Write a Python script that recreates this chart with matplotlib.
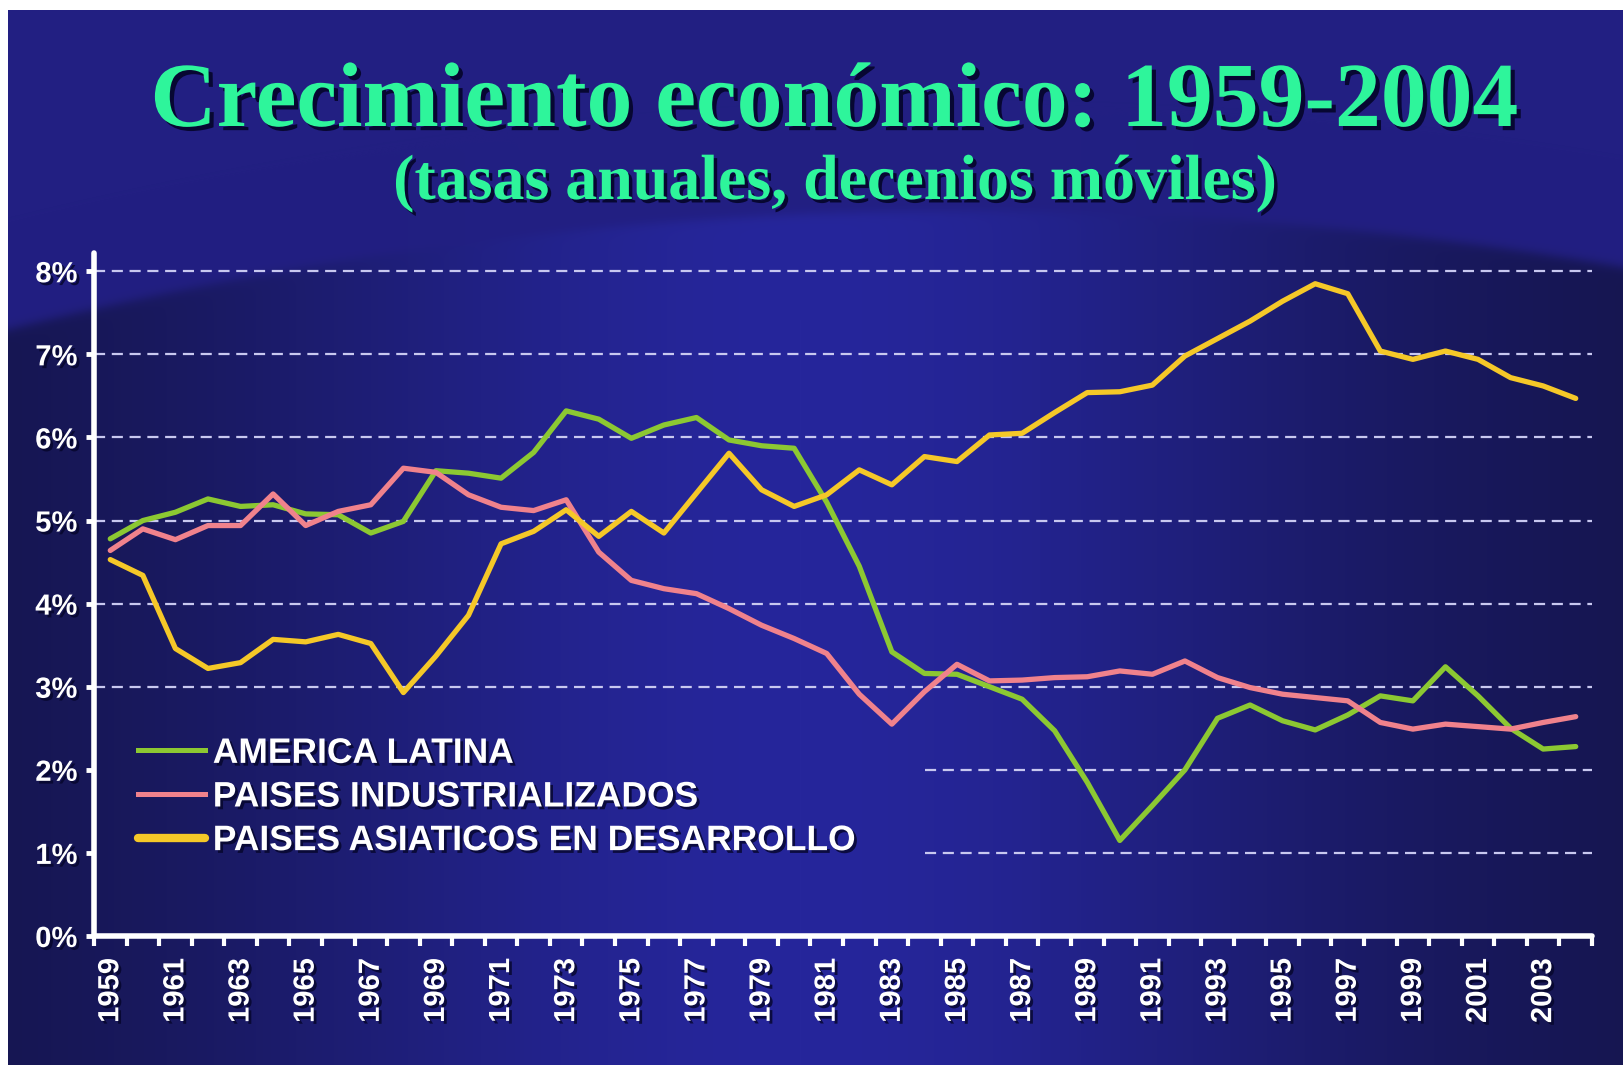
import numpy as np
import matplotlib
matplotlib.use("Agg")
import matplotlib.pyplot as plt
import matplotlib.patheffects as pe
from matplotlib.lines import Line2D

# rolling ten-year annual growth rates (%)
years = list(range(1959, 2005))
america_latina = [4.78, 5.00, 5.10, 5.26, 5.17, 5.19, 5.08, 5.07, 4.85, 4.99,
                  5.60, 5.57, 5.51, 5.82, 6.32, 6.22, 5.99, 6.15, 6.24, 5.97,
                  5.90, 5.87, 5.22, 4.45, 3.42, 3.16, 3.15, 3.00, 2.85, 2.47,
                  1.85, 1.15, 1.57, 2.00, 2.62, 2.78, 2.59, 2.48, 2.66, 2.89,
                  2.83, 3.24, 2.89, 2.50, 2.25, 2.28]
paises_industrializados = [4.64, 4.90, 4.77, 4.94, 4.94, 5.32, 4.94, 5.11, 5.19, 5.63,
                           5.58, 5.31, 5.16, 5.12, 5.25, 4.62, 4.28, 4.18, 4.12, 3.94,
                           3.74, 3.58, 3.40, 2.91, 2.55, 2.94, 3.27, 3.07, 3.08, 3.11,
                           3.12, 3.19, 3.15, 3.31, 3.11, 2.99, 2.91, 2.87, 2.83, 2.57,
                           2.49, 2.55, 2.52, 2.49, 2.57, 2.64]
paises_asiaticos = [4.53, 4.34, 3.46, 3.22, 3.29, 3.57, 3.54, 3.63, 3.52, 2.93,
                    3.37, 3.86, 4.72, 4.87, 5.13, 4.81, 5.11, 4.85, 5.33, 5.81,
                    5.37, 5.17, 5.31, 5.61, 5.43, 5.77, 5.71, 6.03, 6.05, 6.30,
                    6.54, 6.55, 6.63, 6.98, 7.19, 7.40, 7.64, 7.85, 7.73, 7.04,
                    6.94, 7.04, 6.94, 6.72, 6.62, 6.47]
series_names = ["AMERICA LATINA", "PAISES INDUSTRIALIZADOS",
                "PAISES ASIATICOS EN DESARROLLO"]
series_colors = ["#8CC832", "#F0828C", "#F5C828"]
y_ticks = [0, 1, 2, 3, 4, 5, 6, 7, 8]

W, H = 1623, 1065
fig = plt.figure(figsize=(W / 100, H / 100), dpi=100, facecolor="white")

# slide background: blue gradient with a lighter swoosh at the top
bg = fig.add_axes([8 / W, 0, 1 - 8 / W, 1 - 10 / H])
xx, yy = np.meshgrid(np.arange(8, W), np.arange(10, H))
curve = 331 - 0.25 * xx + 1.297e-4 * xx ** 2
upper = np.array([34, 31, 130]) / 255
dark = np.array([20, 20, 72]) / 255
light = np.array([38, 38, 155]) / 255
glow = np.exp(-((xx - 800) / 560.0) ** 2)[..., None]
lower = dark + glow * (light - dark)
m = (1 / (1 + np.exp(-(yy - curve) / 3.0)))[..., None]
img = upper * (1 - m) + lower * m
bg.imshow(img, aspect="auto", interpolation="bilinear")
bg.axis("off")

shadow = [pe.SimplePatchShadow(offset=(2, -2), shadow_rgbFace="#05052a", alpha=0.8), pe.Normal()]

fig.text(0.514, 1 - 126 / H, "Crecimiento económico: 1959-2004", ha="center", va="baseline",
         fontsize=66, fontweight="bold", family="Liberation Serif", color="#2EF59B",
         path_effects=[pe.SimplePatchShadow(offset=(3, -3), shadow_rgbFace="#05052a", alpha=0.9), pe.Normal()])
fig.text(0.514, 1 - 199 / H, "(tasas anuales, decenios móviles)", ha="center", va="baseline",
         fontsize=46, fontweight="bold", family="Liberation Serif", color="#2EF59B",
         path_effects=[pe.SimplePatchShadow(offset=(2.5, -2.5), shadow_rgbFace="#05052a", alpha=0.9), pe.Normal()])

ax = fig.add_axes([94 / W, 1 - 936 / H, (1592 - 94) / W, (936 - 253) / H])
ax.set_facecolor("none")
x = np.arange(len(years))

# dashed grid, the lower two lines stop short of the legend
for v in y_ticks[1:]:
    start = 0.555 if v < 3 else 0.0
    ax.axhline(v, xmin=start, xmax=1, color="#C8C8F0", lw=1.6, ls=(0, (5, 3)), zorder=1)

for vals, name, col in zip([america_latina, paises_industrializados, paises_asiaticos],
                           series_names, series_colors):
    ax.plot(x, vals, color=col, lw=3.8, solid_joinstyle="round", solid_capstyle="round",
            label=name, zorder=3)

ax.set_xlim(-0.45, 45.5)
ax.set_ylim(0, 8.22)

for s in ["top", "right"]:
    ax.spines[s].set_visible(False)
for s in ["left", "bottom"]:
    ax.spines[s].set_color("white")
    ax.spines[s].set_linewidth(4)
    ax.spines[s].set_capstyle("round")

ax.set_yticks(y_ticks)
ax.set_yticklabels([f"{v}%" for v in y_ticks])
ax.tick_params(axis="y", direction="out", length=6, width=3.5, color="white", pad=6,
               labelsize=21, labelcolor="white")

ax.set_xticks(np.arange(-0.5, 46, 1))
ax.set_xticklabels([])
ax.tick_params(axis="x", which="major", direction="out", length=7, width=3, color="white")
ax.set_xticks(x[::2], minor=True)
ax.set_xticklabels([str(y) for y in years[::2]], minor=True, rotation=90)
ax.tick_params(axis="x", which="minor", length=0, pad=16, labelsize=21, labelcolor="white")

for lab in ax.get_yticklabels() + ax.get_xticklabels(minor=True):
    lab.set_fontweight("bold")
    lab.set_family("Liberation Sans")
    lab.set_path_effects(shadow)

handles = [Line2D([], [], color=series_colors[0], lw=3.6),
           Line2D([], [], color=series_colors[1], lw=3.6),
           Line2D([], [], color=series_colors[2], lw=6, solid_capstyle="round")]
leg = ax.legend(handles, series_names, loc="center left",
                bbox_to_anchor=(120 / W, 1 - 797 / H), bbox_transform=fig.transFigure,
                frameon=False, borderpad=0, handlelength=1.9, handletextpad=0.22,
                labelspacing=0.3, prop={"family": "Liberation Sans", "weight": "bold", "size": 25.5})
for t in leg.get_texts():
    t.set_color("white")
    t.set_path_effects(shadow)

fig.savefig("out.png", dpi=100, facecolor=fig.get_facecolor())
